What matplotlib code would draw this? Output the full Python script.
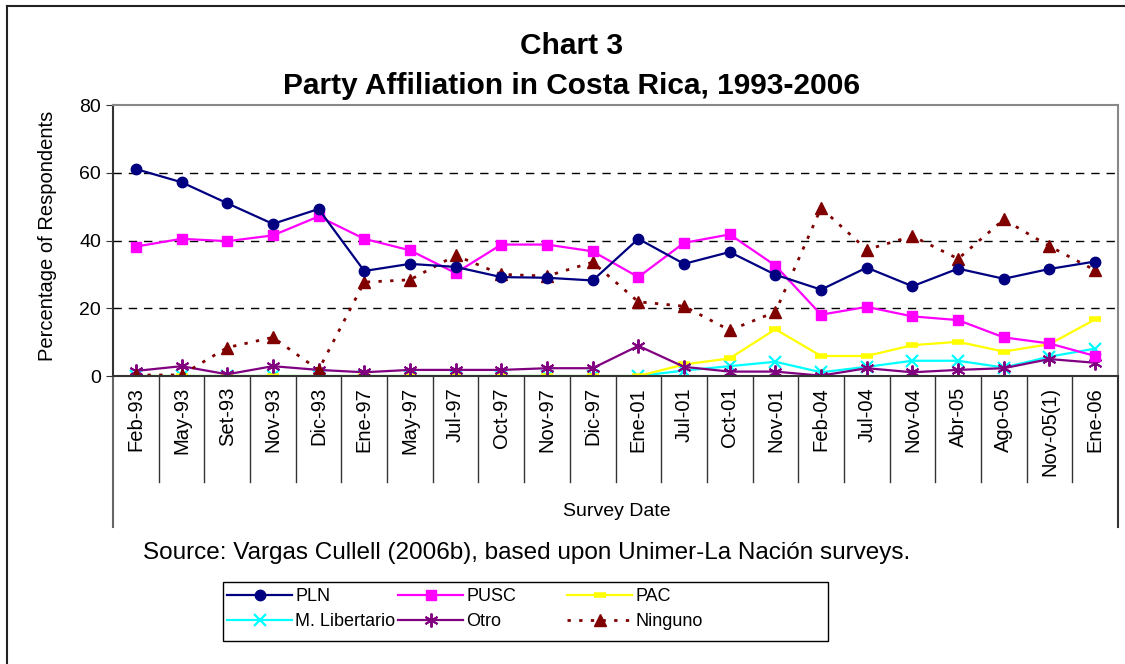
import matplotlib.pyplot as plt
from matplotlib.lines import Line2D
from matplotlib.patches import Rectangle
import matplotlib.transforms as mtransforms

plt.rcParams['font.family'] = ['Liberation Sans', 'DejaVu Sans']

dates = ['Feb-93', 'May-93', 'Set-93', 'Nov-93', 'Dic-93', 'Ene-97', 'May-97', 'Jul-97',
         'Oct-97', 'Nov-97', 'Dic-97', 'Ene-01', 'Jul-01', 'Oct-01', 'Nov-01', 'Feb-04',
         'Jul-04', 'Nov-04', 'Abr-05', 'Ago-05', 'Nov-05(1)', 'Ene-06']

pln = [61.1, 57.2, 51.0, 44.9, 49.3, 31.0, 33.1, 32.2, 29.2, 29.0, 28.2, 40.5,
       33.1, 36.6, 29.9, 25.5, 32.0, 26.5, 31.7, 28.7, 31.6, 33.8]
pusc = [38.2, 40.5, 39.8, 41.5, 47.1, 40.5, 37.1, 30.4, 38.8, 38.8, 36.8, 29.2,
        39.3, 41.8, 32.6, 18.1, 20.4, 17.6, 16.5, 11.4, 9.6, 5.9]
pac = [0, 0, 0, 0, 0, 0, 0, 0, 0, 0, 0, 0,
       3.4, 5.2, 13.8, 5.9, 5.9, 9.1, 10.1, 7.2, 9.4, 16.7]
lib = [0, 0, 0, 0, 0, 0, 0, 0, 0, 0, 0, 0,
       1.6, 2.9, 4.2, 1.1, 2.7, 4.5, 4.5, 2.5, 5.7, 8.1]
otro = [1.5, 2.9, 0.5, 2.9, 1.8, 1.1, 1.8, 1.8, 1.8, 2.3, 2.3, 8.9,
        2.7, 1.3, 1.3, 0.1, 2.3, 1.1, 1.8, 2.3, 5.0, 3.9]
ninguno = [0.3, 0.3, 8.4, 11.4, 1.8, 27.7, 28.4, 35.6, 30.0, 29.5, 33.6, 21.9,
           20.6, 13.5, 18.9, 49.6, 37.3, 41.3, 34.6, 46.2, 38.3, 31.2]

fig = plt.figure(figsize=(11.25, 6.64), dpi=100)
ax = fig.add_axes([113/1125, 1-376/664, (1118-113)/1125, (376-105)/664])

x = range(len(dates))
ax.plot(x, lib, color='#00FFFF', lw=1.6, marker='x', ms=8, mew=1.6, label='M. Libertario')
ax.plot(x, pac, color='#FFFF00', lw=1.6, marker='_', ms=9, mew=4, label='PAC')
ax.plot(x, otro, color='#800080', lw=1.6, marker=(6, 2, 0), ms=10, mew=1.4, label='Otro')
ax.plot(x, ninguno, color='#800000', lw=2, ls=(0, (1.2, 3)), marker='^', ms=9, label='Ninguno')
ax.plot(x, pusc, color='#FF00FF', lw=1.6, marker='s', ms=7, label='PUSC')
ax.plot(x, pln, color='#000080', lw=1.6, marker='o', ms=7.5, label='PLN')

ax.set_xlim(-0.5, len(dates) - 0.5)
ax.set_ylim(0, 80)
ax.set_yticks([0, 20, 40, 60, 80])
for v in [20, 40, 60]:
    ax.axhline(v, color='black', lw=1, ls=(0, (6, 5)), zorder=0)

ax.tick_params(axis='y', labelsize=14, length=5, direction='out', color='#333333')
ax.set_xticks(list(x))
ax.set_xticklabels(dates, rotation=90, fontsize=14.5)
ax.tick_params(axis='x', length=0, pad=8)

for s in ['top', 'right']:
    ax.spines[s].set_color('#888888')
    ax.spines[s].set_linewidth(1.5)
ax.spines['left'].set_color('#333333')
ax.spines['left'].set_linewidth(1.5)
ax.spines['bottom'].set_color('#333333')
ax.spines['bottom'].set_linewidth(1.5)

# category separators below the axis
trans = mtransforms.blended_transform_factory(ax.transData, ax.transAxes)
sep_bottom = (376 - 482) / (376 - 105)
box_bottom = (376 - 527) / (376 - 105)
for i in range(len(dates) - 1):
    ax.add_line(Line2D([i + 0.5, i + 0.5], [0, sep_bottom], transform=trans,
                       color='#333333', lw=1, clip_on=False))
ax.add_line(Line2D([0, 0], [0, box_bottom], transform=ax.transAxes,
                   color='#666666', lw=1.5, clip_on=False))
ax.add_line(Line2D([1, 1], [0, box_bottom], transform=ax.transAxes,
                   color='#333333', lw=1.5, clip_on=False))

fig.text(572/1125, 1-46/664, 'Chart 3', ha='center', va='center',
         fontsize=21.5, fontweight='bold')
fig.text(572/1125, 1-86/664, 'Party Affiliation in Costa Rica, 1993-2006', ha='center',
         va='center', fontsize=21.5, fontweight='bold')
fig.text(48/1125, 1-236/664, 'Percentage of Respondents', rotation=90, ha='center',
         va='center', fontsize=14.5)
fig.text(617/1125, 1-511/664, 'Survey Date', ha='center', va='center', fontsize=14)
fig.text(527/1125, 1-553/664, 'Source: Vargas Cullell (2006b), based upon Unimer-La Nación surveys.',
         ha='center', va='center', fontsize=17.5)

# outer frame
fig.add_artist(Line2D([7/1125, 7/1125], [0, 1-6/664], transform=fig.transFigure,
                      color='#222222', lw=1.5))
fig.add_artist(Line2D([7/1125, 1], [1-6/664, 1-6/664], transform=fig.transFigure,
                      color='#222222', lw=1.5))

# legend: three columns placed like the original, one shared frame
handles, labels = ax.get_legend_handles_labels()
columns = [['PLN', 'M. Libertario'], ['PUSC', 'Otro'], ['PAC', 'Ninguno']]
col_x = [227, 398, 567]
for cx, names in zip(col_x, columns):
    h = [handles[labels.index(n)] for n in names]
    fig.legend(h, names, loc='upper left', bbox_to_anchor=(cx/1125, 1-588/664),
               fontsize=13, frameon=False, handlelength=3.6, handletextpad=0.18,
               labelspacing=0.45, borderpad=0, borderaxespad=0)
fig.add_artist(Rectangle((223/1125, 1-641/664), 605/1125, 59/664, transform=fig.transFigure,
                         fill=False, edgecolor='black', lw=1))

fig.savefig('out.png', dpi=100)
